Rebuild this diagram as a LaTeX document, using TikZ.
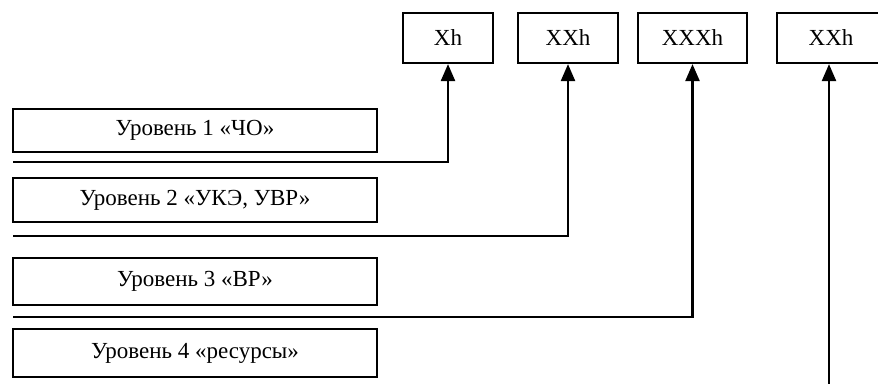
\documentclass[tikz,border=0pt]{standalone}
\usepackage{fontspec}
\setmainfont{Liberation Serif}
\usetikzlibrary{arrows.meta}

\begin{document}
\begin{tikzpicture}[x=0.5pt,y=-0.5pt,font=\fontsize{11.5}{13}\selectfont]
				\useasboundingbox (0,0) rectangle (878,384);
				\begin{scope}[every node/.style={rectangle,draw,line width=1.1pt,inner sep=0pt}]
				    \node[minimum width=182pt,minimum height=21.5pt] (L1) at (195,130.5) {Уровень 1 «ЧО»};
				    \node[minimum width=182pt,minimum height=22pt] (L2) at (195,200) {Уровень 2 «УКЭ, УВР»};
				    \node[minimum width=182pt,minimum height=23.5pt] (L3) at (195,281.5) {Уровень 3 «ВР»};
				    \node[minimum width=182pt,minimum height=24pt] (L4) at (195,353) {Уровень 4 «ресурсы»};
				    \node[minimum width=45pt,minimum height=25pt] (T1) at (448,38) {Xh};
				    \node[minimum width=50pt,minimum height=25pt] (T2) at (568,38) {XXh};
				    \node[minimum width=54.5pt,minimum height=25pt] (T3) at (692.5,38) {XXXh};
				    \node[minimum width=54pt,minimum height=25pt] (T4) at (831,38) {XXh};
				\end{scope}

				\coordinate (s1) at (13,162);
				\coordinate (s2) at (13,236);
				\coordinate (s3) at (13,317);
				\coordinate (s4) at (829,384);

				\begin{scope}[>={Triangle[length=8.5pt,width=7pt]},
				              every path/.style={draw=black,line width=1.2pt}]
				    \draw [->] (s1) -| (T1.south);
				    \draw [->] (s2) -| (T2.south);
				    \draw [->] (s3) -| (T3.south);
				    \draw [->] (s4) -- (s4 |- T4.south);
				\end{scope}
				\end{tikzpicture}
\end{document}
